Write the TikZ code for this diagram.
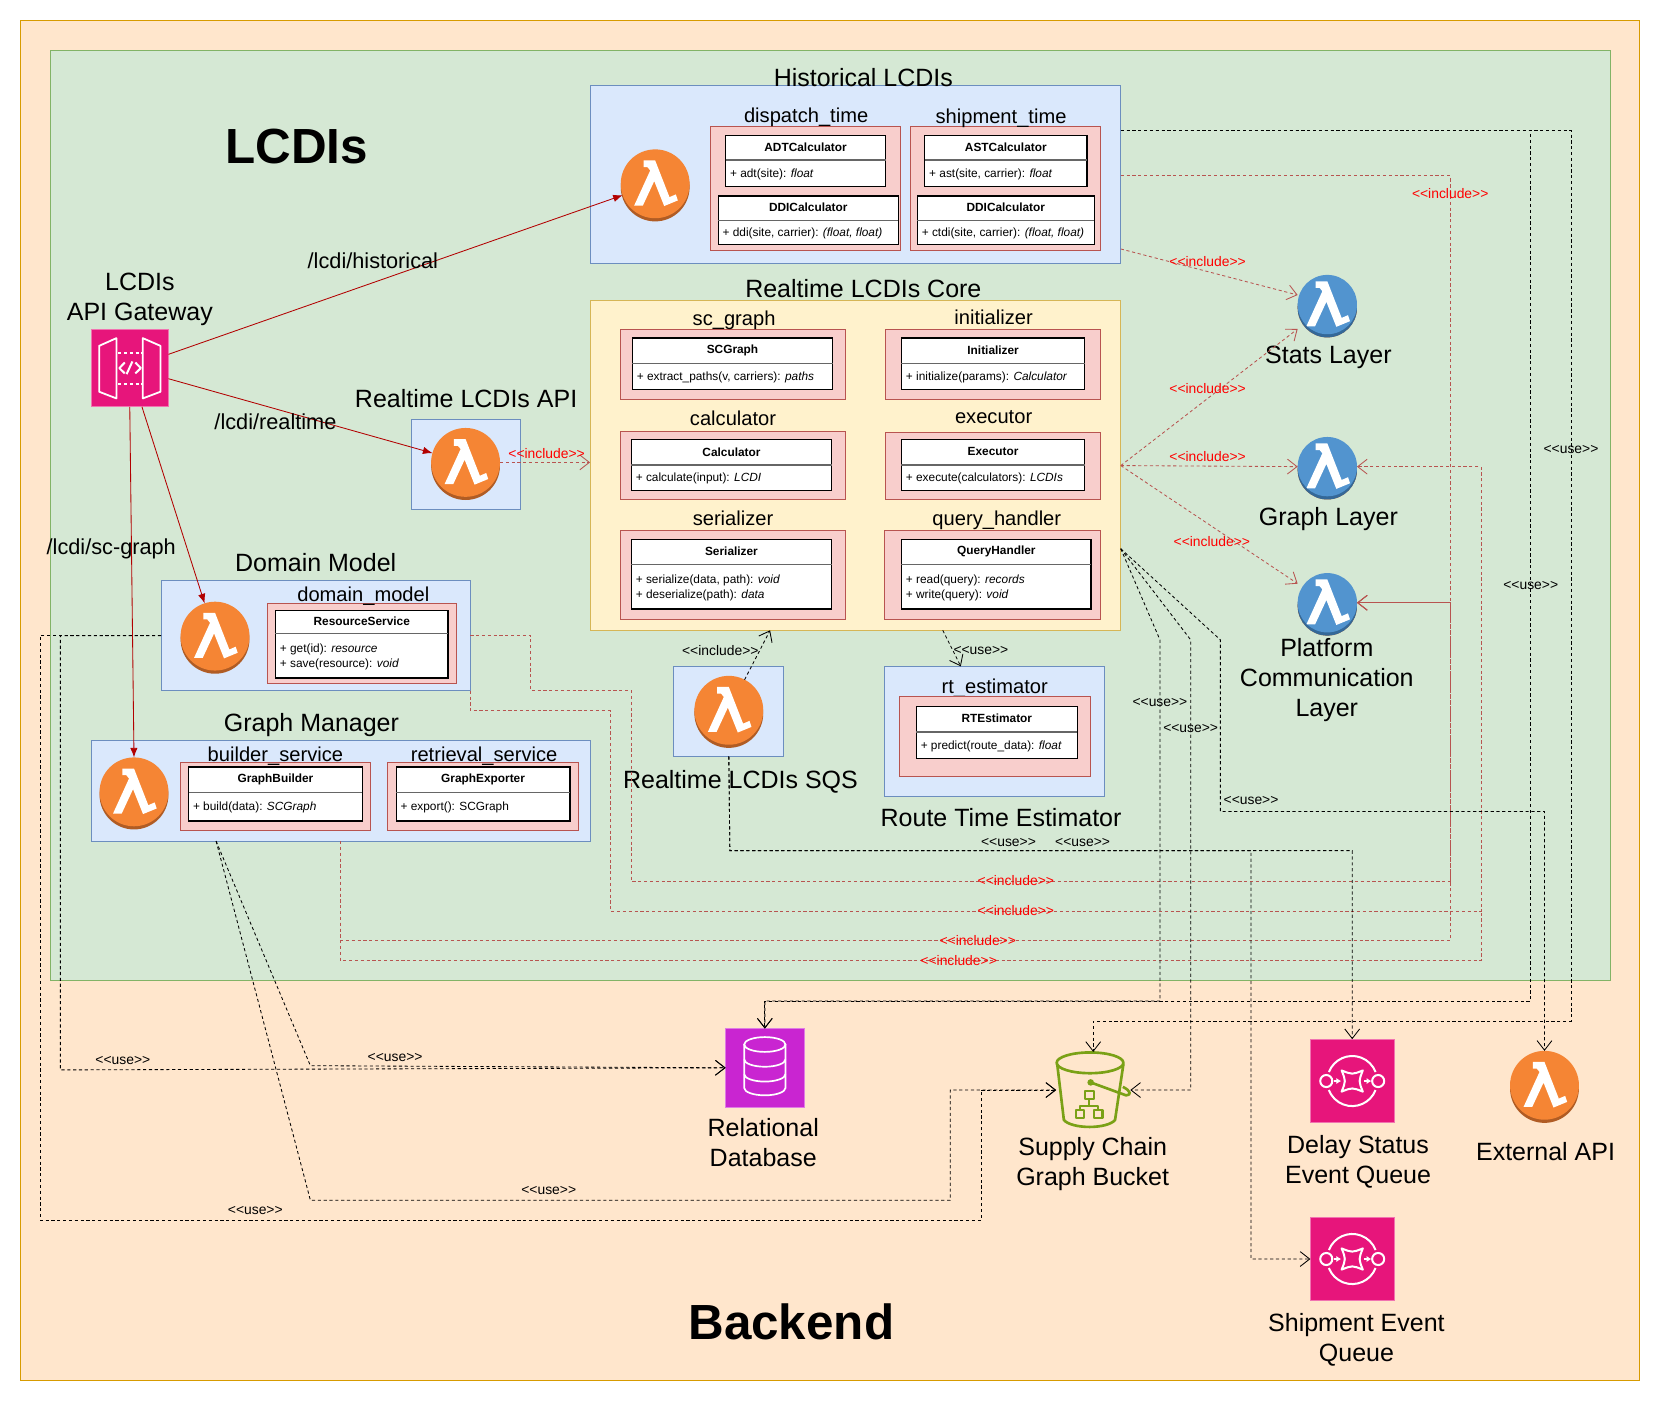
\documentclass[tikz,border=0pt]{standalone}
\usepackage{fontspec}
\usepackage{xcolor}
\usepackage{tikz}
\usetikzlibrary{shapes,arrows.meta,positioning}
\setmainfont{Liberation Sans}
\definecolor{backfill}{RGB}{255,230,204}
\definecolor{backline}{RGB}{215,155,0}
\definecolor{greenfill}{RGB}{213,232,212}
\definecolor{greenline}{RGB}{130,179,102}
\definecolor{bluefill}{RGB}{218,232,252}
\definecolor{blueline}{RGB}{108,142,191}
\definecolor{pinkfill}{RGB}{248,206,204}
\definecolor{pinkline}{RGB}{184,84,80}
\definecolor{yellowfill}{RGB}{255,242,204}
\definecolor{yellowline}{RGB}{214,182,86}
\definecolor{awsorange}{RGB}{245,133,52}
\definecolor{awsorangedark}{RGB}{176,92,36}
\definecolor{awsblue}{RGB}{82,148,207}
\definecolor{awsbluedark}{RGB}{52,104,152}
\definecolor{awspink}{RGB}{231,21,123}
\definecolor{awspurple}{RGB}{201,37,209}
\definecolor{awsgreen}{RGB}{122,161,22}
\definecolor{routered}{RGB}{178,0,0}
% the lambda sign of the function icons
\newcommand{\lambdaglyph}[1]{
    \fill[white, shift={(path picture bounding box.center)}, scale=#1]
        (-11,-22) -- (0,-22) -- (13.5,12.6) -- (19.5,10) -- (21.4,15.7) -- (8.5,21)
        -- (-0.9,-2.5) -- (-11.6,20.5) -- (-19.8,20.5) -- (-4.7,-12.6) -- (-7.3,-15.7)
        -- (-11,-15.7) -- cycle;
}
\tikzset{
        area/.style={
            rectangle, inner sep=0pt, outer sep=0pt, line width=.8pt
        },
        backarea/.style={area, fill=backfill, draw=backline},
        greenarea/.style={area, fill=greenfill, draw=greenline},
        bluearea/.style={area, fill=bluefill, draw=blueline},
        pinkarea/.style={area, fill=pinkfill, draw=pinkline},
        yellowarea/.style={area, fill=yellowfill, draw=yellowline},
        classbox/.style={area, fill=white, draw=black, line width=1.2pt},
        classsep/.style={draw=black!60, line width=1.4pt},
        classhead/.style={
            inner sep=0pt, font=\bfseries\fontsize{11.2}{13}\selectfont
        },
        classbody/.style={
            inner sep=0pt, align=left, font=\fontsize{11.2}{14.5}\selectfont
        },
        biglabel/.style={
            inner sep=0pt, align=center, font=\fontsize{23.6}{28.4}\selectfont
        },
        modlabel/.style={biglabel, font=\fontsize{19}{23}\selectfont},
        routelabel/.style={biglabel, font=\fontsize{20.5}{24}\selectfont},
        hugelabel/.style={
            inner sep=0pt, font=\bfseries\fontsize{46.6}{50}\selectfont
        },
        pathlabel/.style={inner sep=0pt, font=\fontsize{13.1}{15}\selectfont},
        inclabel/.style={pathlabel, text=red},
        lambdaicon/.style={
            circle, inner sep=0pt, outer sep=0pt, minimum size=65pt,
            fill=awsorange,
            path picture={\lambdaglyph{1}},
            preaction={fill=awsorangedark, transform canvas={yshift=-3pt}}
        },
        layericon/.style={
            lambdaicon, minimum size=56pt, fill=awsblue,
            path picture={\lambdaglyph{.86}},
            preaction={fill=awsbluedark, transform canvas={yshift=-3pt}}
        },
        route/.style={draw=routered, line width=.8pt, -{Latex[length=9pt,width=7pt]}},
        include/.style={
            draw=pinkline, line width=.8pt, dash pattern=on 3pt off 2.5pt,
            -{Straight Barb[length=9pt,width=14pt]}
        },
        includeline/.style={draw=pinkline, line width=.8pt, dash pattern=on 3pt off 2.5pt},
        use/.style={
            draw=black, line width=.8pt, dash pattern=on 3pt off 2.5pt,
            -{Straight Barb[length=9pt,width=14pt]}
        },
        pics/queueicon/.style={code={
            \draw[white, line width=1.9pt]
                (-22,-8.5) arc[start angle=201, end angle=339, radius=23.6]
                (22,8.5) arc[start angle=21, end angle=159, radius=23.6]
                (-24.5,0) circle[radius=5.7] (24.5,0) circle[radius=5.7];
            \draw[white, line width=1.9pt, line join=round]
                (-10,-10) .. controls (0,-6) .. (10,-10)
                .. controls (6,0) .. (10,10)
                .. controls (0,6) .. (-10,10)
                .. controls (-6,0) .. (-10,-10) -- cycle;
            \draw[white, line width=1.8pt, -{Latex[length=4.5pt,width=6pt]}] (-17.5,0) -- (-10.5,0);
            \draw[white, line width=1.8pt, -{Latex[length=4.5pt,width=6pt]}] (11,0) -- (18,0);
        }}
    }
% box from corner to corner: style, name, x0, y0, x1, y1
\newcommand{\panelbox}[6]{
    \node[#1, minimum width={(#5-#3)*1pt}, minimum height={(#6-#4)*1pt}]
        (#2) at ({(#3+#5)/2},{(#4+#6)/2}) {};
}
% name, x0, y0, x1, y1, y of separator, title, members
\newcommand{\umlclass}[8]{
    \panelbox{classbox}{#1}{#2}{#3}{#4}{#5}
    \draw[classsep] (#2,#6) -- (#4,#6);
    \node[classhead] (#1head) at ({(#2+#4)/2},{(#3+#6)/2-.5}) {#7};
    \node[classbody, anchor=west] (#1body) at ({#2+4},{(#6+#5)/2+1}) {#8};
}
\newcommand{\inctext}{<{}<include>{}>}
\newcommand{\usetext}{<{}<use>{}>}

\begin{document}
\begin{tikzpicture}[x=1pt, y=-1pt]
    \useasboundingbox (0,0) rectangle (1568,1322.6);

    \panelbox{backarea}{backend}{19}{19}{1548}{1303}
    \panelbox{greenarea}{lcdis}{47.5}{47.5}{1520.5}{925.5}
    \node[hugelabel] (lcdistitle) at (280,138) {LCDIs};
    \node[hugelabel] (backendtitle) at (747,1248) {Backend};

    % historical
    \panelbox{bluearea}{hist}{557}{81}{1058}{249}
    \node[biglabel] (histtitle) at (815,73) {Historical LCDIs};
    \node[lambdaicon] (lamhist) at (618.5,173.5) {};
    \panelbox{pinkarea}{dispatch}{671}{119}{850}{236}
    \node[modlabel] (dispatchtitle) at (761,111) {dispatch\_time};
    \umlclass{adt}{685}{128}{836}{176}{151}{ADTCalculator}{+ adt(site): \textit{float}}
    \umlclass{ddi}{678}{185}{848}{231}{208}{DDICalculator}{+ ddi(site, carrier): \textit{(float, float)}}
    \panelbox{pinkarea}{shipment}{859}{119}{1039}{236}
    \node[modlabel] (shipmenttitle) at (945,112) {shipment\_time};
    \umlclass{ast}{873}{128}{1026}{176}{151}{ASTCalculator}{+ ast(site, carrier): \textit{float}}
    \umlclass{ctdi}{866}{185}{1033}{231}{208}{DDICalculator}{+ ctdi(site, carrier): \textit{(float, float)}}

    % realtime core
    \panelbox{yellowarea}{core}{557}{284}{1058}{595}
    \node[biglabel] (coretitle) at (815,272) {Realtime LCDIs Core};
    \foreach \nm/\lx/\ly/\ttl/\xa/\ya/\xb/\yb in {
        scgraph/693/302/sc\_graph/586/311/798/377,
        init/938/300/initializer/836/311/1039/377,
        calc/692/395/calculator/586/407/798/471,
        exec/938/394/executor/836/408/1039/471,
        serial/692/489/serializer/586/501/798/585,
        query/941/491/query\_handler/835/501/1039/585}{
        \panelbox{pinkarea}{\nm}{\xa}{\ya}{\xb}{\yb}
        \node[modlabel] (\nm title) at (\lx,\ly) {\ttl};
    }
    \umlclass{scgraphc}{597}{319}{786}{368}{343}{SCGraph}{+ extract\_paths(v, carriers): \textit{paths}}
    \umlclass{initc}{851}{319}{1024}{368}{343}{Initializer}{+ initialize(params): \textit{Calculator}}
    \umlclass{calcc}{596}{415}{785}{463}{439}{Calculator}{+ calculate(input): \textit{LCDI}}
    \umlclass{execc}{851}{415}{1024}{463}{439}{Executor}{+ execute(calculators): \textit{LCDIs}}
    \umlclass{serialc}{596}{509}{785}{575}{533}{Serializer}{+ serialize(data, path): \textit{void}\\+ deserialize(path): \textit{data}}
    \umlclass{queryc}{851}{509}{1030}{575}{533}{QueryHandler}{+ read(query): \textit{records}\\+ write(query): \textit{void}}

    % api and gateway
    \panelbox{bluearea}{apibox}{388}{396}{491}{481}
    \node[biglabel] (apititle) at (440,376) {Realtime LCDIs API};
    \node[lambdaicon] (lamapi) at (439.5,436.5) {};
    \panelbox{area, fill=awspink, draw=awspink!60!white}{gateway}{86}{311}{159}{384}
    \node[biglabel] (gatewaytitle) at (132,283) {LCDIs\\API Gateway};
    \begin{scope}[shift={(gateway.center)}, white, line width=1.7pt, line join=round]
        \draw (-28.9,-21) -- (-12.6,-28.3) -- (-12.6,28.6) -- (-28.9,22.3) -- cycle;
        \draw (12.3,-28.3) -- (29,-21) -- (29,22.3) -- (12.3,28.6) -- cycle;
        \draw[dash pattern=on 3pt off 2.5pt] (-11,-14.2) -- (12,-14.2) (-11,15.1) -- (12,15.1);
        \draw[line width=1.9pt] (-4.7,-5.3) -- (-9.8,0) -- (-4.7,5) (5.3,-5.3) -- (10.4,0) -- (5.3,5) (-3,5.7) -- (2.5,-6.3);
    \end{scope}

    % domain model
    \panelbox{bluearea}{dombox}{152}{548}{444}{652}
    \node[biglabel] (domtitle) at (298,531) {Domain Model};
    \node[lambdaicon] (lamdom) at (203,600.5) {};
    \panelbox{pinkarea}{dommodel}{252}{570}{431}{645}
    \node[modlabel] (dommodeltitle) at (343,563) {domain\_model};
    \umlclass{resource}{260}{576}{423}{640}{598}{ResourceService}{+ get(id): \textit{resource}\\+ save(resource): \textit{void}}

    % graph manager
    \panelbox{bluearea}{gmbox}{86}{699}{557}{794}
    \node[biglabel] (gmtitle) at (294,684) {Graph Manager};
    \node[lambdaicon] (lamgm) at (126.5,747.5) {};
    \panelbox{pinkarea}{builder}{170}{720}{350}{784}
    \node[modlabel] (buildertitle) at (260,714) {builder\_service};
    \umlclass{gbuilder}{178}{724}{342}{775}{748}{GraphBuilder}{+ build(data): \textit{SCGraph}}
    \panelbox{pinkarea}{retrieval}{366}{720}{546}{784}
    \node[modlabel] (retrievaltitle) at (457,714) {retrieval\_service};
    \umlclass{gexporter}{374}{724}{538}{775}{748}{GraphExporter}{+ export(): SCGraph}

    % sqs and estimator
    \panelbox{bluearea}{sqsbox}{636}{629}{740}{714}
    \node[lambdaicon] (lamsqs) at (688,670.5) {};
    \node[biglabel] (sqstitle) at (699,738) {Realtime LCDIs SQS};
    \panelbox{bluearea}{rtbox}{835}{629}{1043}{752}
    \node[modlabel] (rttitle) at (939,650) {rt\_estimator};
    \panelbox{pinkarea}{rtpink}{849}{657}{1029}{733}
    \umlclass{rtclass}{865}{667}{1017}{716}{691}{RTEstimator}{+ predict(route\_data): \textit{float}}
    \node[biglabel] (rtlabel) at (945,772) {Route Time Estimator};

    % layers
    \node[layericon] (lamstats) at (1253,287.5) {};
    \node[biglabel] (statstitle) at (1254,337) {Stats Layer};
    \node[layericon] (lamgraph) at (1253,440.5) {};
    \node[biglabel] (graphtitle) at (1254,490) {Graph Layer};
    \node[layericon] (lamplat) at (1253,569) {};
    \node[biglabel] (plattitle) at (1252.5,642) {Platform\\Communication\\Layer};

    % backend services
    \panelbox{area, fill=awspurple, draw=awspurple!60!white}{dbbox}{685}{971}{759}{1045}
    \begin{scope}[shift={(dbbox.center)}, white, line width=1.6pt]
        \draw (0,-22) ellipse[x radius=19.5, y radius=7];
        \draw (-19.5,-22) -- (-19.5,19) arc[start angle=180, end angle=360, x radius=19.5, y radius=-7] -- (19.5,-22);
        \draw (-19.5,-8) arc[start angle=180, end angle=360, x radius=19.5, y radius=-7];
        \draw (-19.5,6) arc[start angle=180, end angle=360, x radius=19.5, y radius=-7];
    \end{scope}
    \node[biglabel] (dbtitle) at (720.5,1079) {Relational\\ Database};

    \node[inner sep=0pt, outer sep=0pt, minimum width=70pt, minimum height=72pt] (bucket) at (1032,1029) {};
    \begin{scope}[shift={(bucket.center)}, draw=awsgreen, awsgreen, line width=2.5pt, line join=round]
        \draw (-3,-25.7) ellipse[x radius=31.5, y radius=9.8];
        \draw (-34,-24.5) -- (-27.7,28.3) .. controls (-20,37) and (13,37) .. (20.6,28.3) -- (28.5,-24.5);
        \fill (-2.4,-7.2) circle[radius=3.1];
        \draw (-2.4,-7.2) -- (31,5) .. controls (36,5) and (36,1) .. (28,-3);
        \draw[line width=2pt] (-7.6,0.7) rectangle (0.4,8.7)
            (-3.6,8.7) -- (-3.6,14.7) (-12.5,18.7) -- (-12.5,14.7) -- (4.8,14.7) -- (4.8,18.7)
            (-16.5,18.7) rectangle (-8.5,26.7) (0.8,18.7) rectangle (8.8,26.7);
    \end{scope}
    \node[biglabel] (buckettitle) at (1031.5,1099) {Supply Chain\\Graph Bucket};

    \panelbox{area, fill=awspink, draw=awspink!60!white}{delayq}{1237}{981}{1316}{1060}
    \pic at (delayq.center) {queueicon};
    \node[biglabel] (delaytitle) at (1282,1097) {Delay Status\\Event Queue};
    \panelbox{area, fill=awspink, draw=awspink!60!white}{shipq}{1237}{1149}{1316}{1228}
    \pic at (shipq.center) {queueicon};
    \node[biglabel] (shiptitle) at (1280.5,1265) {Shipment Event\\Queue};
    \node[lambdaicon] (lamext) at (1458,1024.5) {};
    \node[biglabel] (exttitle) at (1459,1087) {External API};

    % gateway routes
    \draw[route] ([yshift=13pt]gateway.east) -- (lamhist);
    \draw[route] ([yshift=-10pt]gateway.east) -- (lamapi);
    \draw[route] ([xshift=11.5pt]gateway.south) -- (lamdom);
    \draw[route] (gateway.south) -- (lamgm.north);
    \node[routelabel] (routehist) at (352,246) {/lcdi/historical};
    \node[routelabel] (routereal) at (260,398) {/lcdi/realtime};
    \node[routelabel] (routesc) at (105,518) {/lcdi/sc-graph};

    % include lines
    \draw[include] (lamapi.east) -- (core.west |- lamapi.east);
    \draw[include] ([yshift=14pt]hist.south east) -- ([yshift=9pt]lamstats.west);
    \draw[include] ([yshift=-85pt]hist.north east) -- (1369,166) -- (1369,569) -- (lamplat.east);
    \draw[include] (core.east) -- ([yshift=-23pt]lamstats.west);
    \draw[include] (core.east) -- (lamgraph.west);
    \draw[include] (core.east) -- ([yshift=18pt]lamplat.west);
    \draw[include] (dombox.east) -- (501,600) -- (501,652) -- (596,652) -- (596,832) -- (1369,832) -- (1369,569) -- (lamplat.east);
    \draw[include] (dombox.south east) -- (444,671) -- (576,671) -- (576,860) -- (1398,860) -- (1398,440.5) -- (lamgraph.east);
    \draw[include] (gmbox.south) -- (321.5,888) -- (1369,888) -- (1369,569) -- (lamplat.east);
    \draw[includeline] (gmbox.south) -- (321.5,907) -- (1398,907) -- (1398,860);

    % use lines
    \draw[use] (lamsqs) -- ([xshift=-80.5pt]core.south);
    \draw[use] ([xshift=82.5pt]core.south) -- ([xshift=-32pt]rtbox.north);
    \draw[use] ([yshift=-42pt]hist.north east) -- (1445,123) -- (1445,945) -- (722,945) -- (dbbox.north);
    \draw[use] ([yshift=-42pt]hist.north east) -- (1483,123) -- (1483,964) -- (1032,964) -- (bucket.north);
    \draw[use] ([yshift=-78.5pt]core.east) -- (1095,604) -- (1095,945) -- (722,945) -- (dbbox.north);
    \draw[use] ([yshift=-78.5pt]core.east) -- (1124,604) -- (1124,1029) -- (bucket.east);
    \draw[use] ([yshift=-78.5pt]core.east) -- (1152,604) -- (1152,766) -- (1458,766) -- (lamext.north);
    \draw[use] (sqsbox.south) -- (689,803) -- (1276.5,803) -- (delayq.north);
    \draw[use] (sqsbox.south) -- (689,803) -- (1181,803) -- (1181,1188.5) -- (shipq.west);
    \draw[use] ([xshift=-117.5pt]gmbox.south) -- (293,1006) -- (dbbox.west);
    \draw[use] ([xshift=-117.5pt]gmbox.south) -- (293,1133) -- (897,1133) -- (897,1029) -- (bucket.west);
    \draw[use] (dombox.west) -- (57,600) -- (57,1010) -- (dbbox.west);
    \draw[use] (dombox.west) -- (38,600) -- (38,1152) -- (926,1152) -- (926,1029) -- (bucket.west);

    % labels on the lines
    \foreach \nm/\lx/\ly in {a/516/428, b/1140/247, c/1369/183, d/1140/367, e/1140/431,
        f/1144/511, g/959/831, h/959/860, i/923/888, j/905/907}{
        \node[inclabel] (inc\nm) at (\lx,\ly) {\inctext};
    }
    \node[pathlabel] (incsqs) at (680,614) {\inctext};
    \foreach \nm/\lx/\ly in {a/926/614, b/1483/424, c/1445/553, d/1095/663, e/1124/688,
        f/1181/756, g/1022/795, h/952/795, i/373/998, j/518/1124, k/116/1001, l/241/1143}{
        \node[pathlabel] (use\nm) at (\lx,\ly) {\usetext};
    }
\end{tikzpicture}
\end{document}
